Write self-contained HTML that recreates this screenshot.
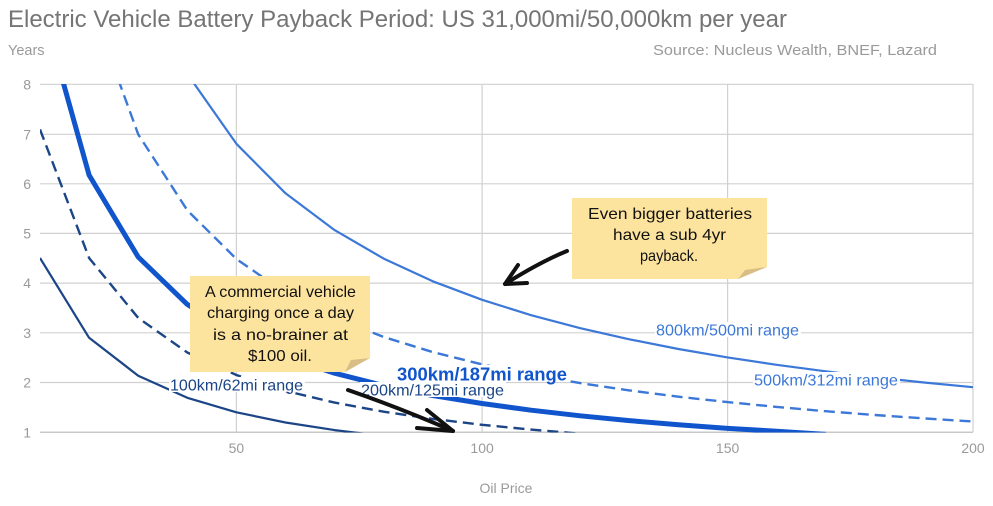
<!DOCTYPE html>
<html>
<head>
<meta charset="utf-8">
<style>
  html,body{margin:0;padding:0;background:#fff;}
  svg{display:block;}
  text{font-family:"Liberation Sans",Arial,sans-serif;}
</style>
</head>
<body>
<svg width="993" height="506" viewBox="0 0 993 506" xmlns="http://www.w3.org/2000/svg">
  <defs>
    <clipPath id="plot"><rect x="40" y="84" width="933" height="348.5"/></clipPath>
  </defs>
  <rect x="0" y="0" width="993" height="506" fill="#fff"/>

  <!-- Titles -->
  <text x="8" y="27" font-size="24" fill="#757575" textLength="779" lengthAdjust="spacingAndGlyphs">Electric Vehicle Battery Payback Period: US 31,000mi/50,000km per year</text>
  <text x="8" y="55" font-size="14.5" fill="#9a9a9a">Years</text>
  <text x="653" y="55" font-size="15" fill="#9a9a9a" textLength="284" lengthAdjust="spacingAndGlyphs">Source: Nucleus Wealth, BNEF, Lazard</text>

  <!-- Gridlines -->
  <g stroke="#d0d0d0" stroke-width="1.2" fill="none">
    <line x1="40" y1="84.3" x2="973" y2="84.3"/>
    <line x1="40" y1="134.3" x2="973" y2="134.3"/>
    <line x1="40" y1="183.8" x2="973" y2="183.8"/>
    <line x1="40" y1="233.4" x2="973" y2="233.4"/>
    <line x1="40" y1="283.1" x2="973" y2="283.1"/>
    <line x1="40" y1="332.8" x2="973" y2="332.8"/>
    <line x1="40" y1="382.5" x2="973" y2="382.5"/>
    <line x1="236.4" y1="84" x2="236.4" y2="432"/>
    <line x1="482.1" y1="84" x2="482.1" y2="432"/>
    <line x1="727.6" y1="84" x2="727.6" y2="432"/>
    <line x1="973" y1="84" x2="973" y2="432"/>
  </g>
  <line x1="40" y1="432.3" x2="973" y2="432.3" stroke="#c8c8c8" stroke-width="1.5"/>

  <!-- Y tick labels -->
  <g font-size="14" fill="#9a9a9a" text-anchor="end">
    <text x="31" y="89.5">8</text>
    <text x="31" y="139.5">7</text>
    <text x="31" y="189">6</text>
    <text x="31" y="238.5">5</text>
    <text x="31" y="288">4</text>
    <text x="31" y="338">3</text>
    <text x="31" y="387.5">2</text>
    <text x="31" y="437.5">1</text>
  </g>
  <!-- X tick labels -->
  <g font-size="14" fill="#9a9a9a" text-anchor="middle">
    <text x="236.4" y="453">50</text>
    <text x="482.1" y="453">100</text>
    <text x="727.6" y="453">150</text>
    <text x="973" y="453">200</text>
    <text x="506" y="493">Oil Price</text>
  </g>

  <!-- Series -->
  <g clip-path="url(#plot)" fill="none" stroke-linejoin="round">
    <!-- 800km solid light -->
    <polyline stroke="#3c78d8" stroke-width="2.2" points="138.2,-32.5 187.3,73.9 236.4,143.8 285.5,193.3 334.6,230.1 383.7,258.6 432.8,281.3 482.1,299.8 531.1,315.2 580.3,328.2 629.3,339.3 678.4,349.0 727.6,357.4 776.6,364.8 825.7,371.3 874.8,377.2 923.9,382.5 973,387.2"/>
    <!-- 500km dashed light -->
    <polyline stroke="#3c78d8" stroke-width="2.4" stroke-dasharray="11,6" points="89.1,-0.6 138.2,134.3 187.3,210.3 236.4,259.0 285.5,292.9 334.6,317.9 383.7,337.0 432.8,352.1 482.1,364.4 531.1,374.5 580.3,383.1 629.3,390.4 678.4,396.7 727.6,402.1 776.6,406.9 825.7,411.2 874.8,415.0 923.9,418.4 973,421.5"/>
    <!-- 300km thick -->
    <polyline stroke="#1155cc" stroke-width="5" points="40,-0.6 89.1,175.1 138.2,257.0 187.3,304.4 236.4,335.3 285.5,357.0 334.6,373.2 383.7,385.6 432.8,395.5 482.1,403.5 531.1,410.2 580.3,415.8 629.3,420.6 678.4,424.8 727.6,428.4 776.6,431.2 825.7,434.4"/>
    <!-- 200km dashed dark -->
    <polyline stroke="#1c4587" stroke-width="2.4" stroke-dasharray="11,6" points="40,129.4 89.1,258.0 138.2,317.9 187.3,352.5 236.4,375.0 285.5,390.9 334.6,402.6 383.7,411.7 432.8,418.9 482.1,424.8 531.1,429.6 580.3,433.7"/>
    <!-- 100km solid dark -->
    <polyline stroke="#1c4587" stroke-width="2.2" points="40,258.0 89.1,337.8 138.2,375.7 187.3,397.8 236.4,412.3 285.5,422.5 334.6,430.1 383.7,436.0"/>
  </g>

  <!-- Series labels -->
  <rect x="169" y="377" width="136" height="15" fill="#fff"/>
  <text x="170" y="390.5" font-size="16" fill="#1c4587" textLength="133" lengthAdjust="spacingAndGlyphs">100km/62mi range</text>
  <rect x="360" y="382" width="146" height="15" fill="#fff"/>
  <text x="361" y="395.5" font-size="16" fill="#1c4587" textLength="143" lengthAdjust="spacingAndGlyphs">200km/125mi range</text>
  <rect x="396" y="365" width="173" height="17" fill="#fff"/>
  <text x="397" y="380.5" font-size="18" font-weight="bold" fill="#1155cc" textLength="170" lengthAdjust="spacingAndGlyphs">300km/187mi range</text>
  <rect x="655" y="322" width="146" height="15" fill="#fff"/>
  <text x="656" y="335.5" font-size="16" fill="#3c78d8" textLength="143" lengthAdjust="spacingAndGlyphs">800km/500mi range</text>
  <rect x="753" y="372" width="147" height="15" fill="#fff"/>
  <text x="754" y="385.5" font-size="16" fill="#3c78d8" textLength="144" lengthAdjust="spacingAndGlyphs">500km/312mi range</text>

  <!-- Arrows -->
  <g stroke="#111" stroke-width="4" fill="none" stroke-linecap="round" stroke-linejoin="round">
    <path d="M567,251 Q540,262 505,284"/>
    <path d="M518,265 L505,284 L527,283"/>
    <path d="M348,390 Q400,408 453,431"/>
    <path d="M427,410 L453,431 L417,428"/>
  </g>

  <!-- Sticky note 1 -->
  <polygon points="572,198 767,198 767,267 738,279 572,279" fill="#fde49e"/>
  <polygon points="738,279 745,270 767,267" fill="#d8be86"/>
  <g font-size="16" fill="#111" text-anchor="middle">
    <text x="670" y="219" textLength="164" lengthAdjust="spacingAndGlyphs">Even bigger batteries</text>
    <text x="669.5" y="240" textLength="113" lengthAdjust="spacingAndGlyphs">have a sub 4yr</text>
    <text x="669" y="261" textLength="58" lengthAdjust="spacingAndGlyphs">payback.</text>
  </g>

  <!-- Sticky note 2 -->
  <polygon points="190,276 370,276 370,358 345,372 190,372" fill="#fde49e"/>
  <polygon points="345,372 351,360 370,358" fill="#d8be86"/>
  <g font-size="16" fill="#111" text-anchor="middle">
    <text x="280.5" y="297" textLength="151" lengthAdjust="spacingAndGlyphs">A commercial vehicle</text>
    <text x="280.5" y="318" textLength="147" lengthAdjust="spacingAndGlyphs">charging once a day</text>
    <text x="280.5" y="340" textLength="135" lengthAdjust="spacingAndGlyphs">is a no-brainer at</text>
    <text x="280" y="361" textLength="64" lengthAdjust="spacingAndGlyphs">$100 oil.</text>
  </g>
</svg>
</body>
</html>
